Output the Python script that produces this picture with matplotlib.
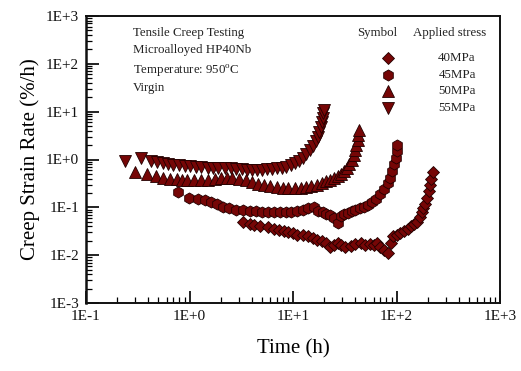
import matplotlib
matplotlib.use("Agg")
import matplotlib.pyplot as plt
from matplotlib.ticker import FixedLocator, FixedFormatter, LogLocator, NullFormatter

plt.rcParams['font.family'] = ['Liberation Serif', 'DejaVu Serif']
plt.rcParams['mathtext.fontset'] = 'custom'
plt.rcParams['mathtext.rm'] = 'Liberation Serif'

# ---------------- data ----------------
t_55 = [0.24, 0.34, 0.42, 0.48, 0.55, 0.62, 0.70, 0.80, 0.90, 1.0, 1.15, 1.3, 1.5, 1.7,
        1.9, 2.2, 2.5, 2.8, 3.2, 3.6, 4.0, 4.5, 5.0, 5.6, 6.2, 7.0, 7.8, 8.6, 9.5, 10.5,
        11.5, 12.5, 13.5, 14.5, 15.5, 16.5, 17.3, 18.0, 18.6, 19.1, 19.5, 19.7, 19.8]
r_55 = [0.95, 1.05, 0.92, 0.88, 0.83, 0.80, 0.78, 0.76, 0.74, 0.72, 0.70, 0.69, 0.68, 0.67,
        0.66, 0.65, 0.66, 0.63, 0.62, 0.60, 0.59, 0.61, 0.60, 0.62, 0.62, 0.65, 0.67, 0.70,
        0.76, 0.84, 0.95, 1.1, 1.3, 1.55, 1.9, 2.4, 3.0, 3.8, 4.8, 6.0, 7.5, 9.5, 11.0]

t_50 = [0.30, 0.39, 0.47, 0.55, 0.65, 0.75, 0.85, 0.95, 1.1, 1.3, 1.5, 1.75, 2.0, 2.3, 2.6,
        3.0, 3.5, 4.0, 4.6, 5.3, 6.0, 7.0, 8.0, 9.0, 10.5, 12, 13.5, 15, 17, 19, 21, 23,
        25, 27, 29, 31, 33, 35, 37, 38.5, 40, 41, 42, 42.7, 43]
r_50 = [0.54, 0.49, 0.45, 0.42, 0.40, 0.39, 0.38, 0.37, 0.37, 0.37, 0.38, 0.40, 0.41, 0.42,
        0.42, 0.40, 0.37, 0.34, 0.31, 0.29, 0.28, 0.26, 0.25, 0.25, 0.25, 0.25, 0.26, 0.28,
        0.30, 0.33, 0.35, 0.38, 0.41, 0.45, 0.50, 0.57, 0.66, 0.80, 1.0, 1.25, 1.6, 2.0,
        2.6, 3.3, 4.2]

t_45 = [0.77, 0.98, 1.2, 1.4, 1.6, 1.85, 2.1, 2.4, 2.8, 3.3, 3.8, 4.4, 5.0, 5.7, 6.5, 7.5,
        8.5, 9.5, 11, 12.5, 14, 15.8, 17.5, 19.5, 21, 23, 25, 27, 29, 31, 34, 37, 40, 44,
        48, 53, 58, 64, 70, 76, 82, 87, 91, 95, 98, 100, 102]
r_45 = [0.205, 0.16, 0.152, 0.14, 0.127, 0.115, 0.102, 0.095, 0.090, 0.087, 0.085, 0.082,
        0.080, 0.079, 0.080, 0.078, 0.080, 0.079, 0.082, 0.090, 0.095, 0.10, 0.085, 0.080,
        0.072, 0.068, 0.060, 0.046, 0.065, 0.072, 0.075, 0.082, 0.088, 0.095, 0.10, 0.11,
        0.13, 0.15, 0.19, 0.24, 0.32, 0.42, 0.58, 0.80, 1.1, 1.5, 2.0]

t_40 = [3.3, 3.8, 4.2, 4.8, 5.7, 6.5, 7.3, 8.1, 9.0, 10, 11, 12.5, 14, 15.5, 17, 19, 21,
        23, 25, 27, 29, 32, 36, 40, 45, 50, 55, 60, 65, 70, 76, 82, 88, 93, 100, 109, 118,
        128, 138, 146, 158, 168, 176, 182, 190, 197, 204, 210, 216, 223]
r_40 = [0.049, 0.044, 0.042, 0.040, 0.038, 0.036, 0.034, 0.032, 0.031, 0.029, 0.027, 0.026,
        0.025, 0.023, 0.021, 0.020, 0.018, 0.0147, 0.016, 0.018, 0.016, 0.015, 0.0154,
        0.017, 0.018, 0.016, 0.017, 0.016, 0.018, 0.015, 0.013, 0.011, 0.018, 0.025, 0.027,
        0.029, 0.032, 0.036, 0.040, 0.044, 0.050, 0.062, 0.080, 0.095, 0.12, 0.16, 0.22,
        0.30, 0.40, 0.54]

stress_labels = ["40MPa", "45MPa", "50MPa", "55MPa"]
markers = ['D', 'h', '^', 'v']
msizes = [6.3, 8.0, 8.0, 8.0]
series = [(t_40, r_40), (t_45, r_45), (t_50, r_50), (t_55, r_55)]

x_ticks = [1e-1, 1e0, 1e1, 1e2, 1e3]
x_tick_labels = ["1E-1", "1E+0", "1E+1", "1E+2", "1E+3"]
y_ticks = [1e-3, 1e-2, 1e-1, 1e0, 1e1, 1e2, 1e3]
y_tick_labels = ["1E-3", "1E-2", "1E-1", "1E+0", "1E+1", "1E+2", "1E+3"]

info_lines = ["Tensile Creep Testing", "Microalloyed HP40Nb",
              "Temperature: 950$^{\\mathrm{o}}$C", "Virgin"]

# ---------------- figure ----------------
face = '#760606'
edge = '#220000'

fig = plt.figure(figsize=(5.21, 3.71), dpi=100)
ax = fig.add_axes([86/521, 1-303/371, (500-86)/521, (303-16)/371])
ax.set_xscale('log')
ax.set_yscale('log')

for (t, r), m, ms in zip(series, markers, msizes):
    ax.plot(t, r, linestyle='none', marker=m, markersize=ms,
            markerfacecolor=face, markeredgecolor=edge, markeredgewidth=0.6)

ax.set_xlim(1e-1, 1e3)
ax.set_ylim(1e-3, 1e3)

ax.xaxis.set_major_locator(FixedLocator(x_ticks))
ax.xaxis.set_major_formatter(FixedFormatter(x_tick_labels))
ax.yaxis.set_major_locator(FixedLocator(y_ticks))
ax.yaxis.set_major_formatter(FixedFormatter(y_tick_labels))
ax.xaxis.set_minor_locator(LogLocator(base=10, subs=range(2, 10), numticks=20))
ax.yaxis.set_minor_locator(LogLocator(base=10, subs=range(2, 10), numticks=20))
ax.xaxis.set_minor_formatter(NullFormatter())
ax.yaxis.set_minor_formatter(NullFormatter())

ax.tick_params(which='major', direction='in', length=9, width=1.3, labelsize=11,
               colors='#111111', pad=5)
ax.tick_params(which='minor', direction='in', length=4, width=0.9)
ax.tick_params(axis='x', which='both', top=False)
ax.tick_params(axis='y', which='both', right=False)
for s in ax.spines.values():
    s.set_linewidth(1.4)
    s.set_color('#111111')
ax.spines['left'].set_linewidth(1.8)

ax.set_xlabel("Time (h)", fontsize=15, labelpad=12)
ax.set_ylabel("Creep Strain Rate (%/h)", fontsize=15, labelpad=4)

# info block
ys = [33, 50, 71, 88]
for txt, yp in zip(info_lines, ys):
    ax.text((133-86)/414, (303-yp)/287, txt, transform=ax.transAxes,
            fontsize=9.3, va='center', ha='left', color='#222222')

# symbol legend
ax.text((377-86)/414, (303-33)/287, "Symbol", transform=ax.transAxes,
        fontsize=9.3, va='center', ha='center', color='#222222')
ax.text((450-86)/414, (303-33)/287, "Applied stress", transform=ax.transAxes,
        fontsize=9.3, va='center', ha='center', color='#222222')
leg_y = [58, 75, 91, 108]
for lab, m, ms, yp in zip(stress_labels, markers, msizes, leg_y):
    ax.plot([(388-86)/414], [(303-yp)/287], transform=ax.transAxes, linestyle='none',
            marker=m, markersize=ms, markerfacecolor=face, markeredgecolor=edge,
            markeredgewidth=0.6, clip_on=False)
    ax.text((457-86)/414, (303-yp)/287, lab, transform=ax.transAxes,
            fontsize=9.3, va='center', ha='center', color='#222222')

fig.savefig("out.png", dpi=100)
